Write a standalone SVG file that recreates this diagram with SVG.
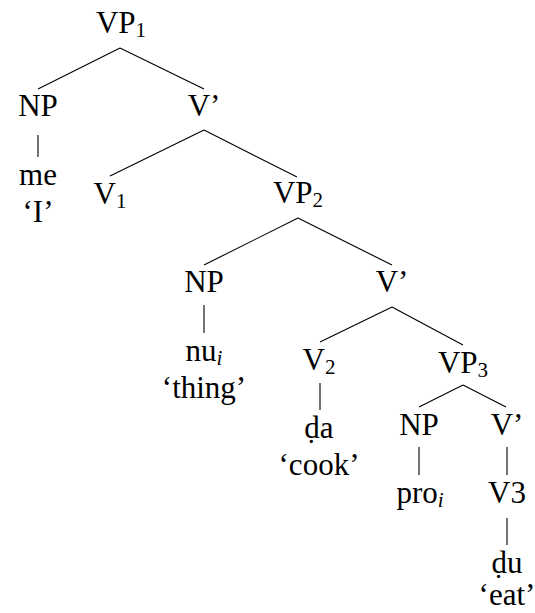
<svg xmlns="http://www.w3.org/2000/svg" width="535" height="613" viewBox="0 0 535 613">
<style>
text{font-family:"Liberation Serif","Tinos","Times New Roman","Times","Nimbus Roman","Noto Serif","DejaVu Serif",serif;font-size:31px;fill:#000;text-anchor:middle}
.s{font-size:21px}
.i{font-style:italic}
line{stroke:#000;stroke-width:1.1}
</style>
<rect width="535" height="613" fill="#fff"/>
<g id="connectors">
<line x1="120" y1="48" x2="38" y2="89"/>
<line x1="120" y1="48" x2="204" y2="89"/>
<line x1="38" y1="135" x2="38" y2="157"/>
<line x1="204" y1="130" x2="110" y2="176"/>
<line x1="204" y1="130" x2="297" y2="177"/>
<line x1="298" y1="218" x2="204" y2="265"/>
<line x1="298" y1="218" x2="392" y2="265"/>
<line x1="204" y1="305" x2="204" y2="333"/>
<line x1="392" y1="307" x2="320" y2="342"/>
<line x1="392" y1="307" x2="463" y2="345"/>
<line x1="320" y1="383" x2="320" y2="410"/>
<line x1="463" y1="385" x2="419" y2="407"/>
<line x1="463" y1="385" x2="506" y2="407"/>
<line x1="419" y1="447" x2="419" y2="475"/>
<line x1="507" y1="447" x2="507" y2="475"/>
<line x1="507" y1="518" x2="507" y2="545"/>
</g>
<g id="vp1"><text x="121" y="33">VP<tspan class="s" dy="4">1</tspan></text></g>
<g id="np1"><text x="38" y="116">NP</text></g>
<g id="me"><text x="38" y="185">me</text><text x="38" y="222">‘I’</text></g>
<g id="vbar1"><text x="204" y="116">V’</text></g>
<g id="v1"><text x="110" y="204">V<tspan class="s" dy="4">1</tspan></text></g>
<g id="vp2"><text x="298" y="203">VP<tspan class="s" dy="4">2</tspan></text></g>
<g id="np2"><text x="204" y="292">NP</text></g>
<g id="nu"><text x="204" y="361">nu<tspan class="s i" dy="4">i</tspan></text><text x="204" y="398">‘thing’</text></g>
<g id="vbar2"><text x="392" y="292">V’</text></g>
<g id="v2"><text x="319" y="370">V<tspan class="s" dy="4">2</tspan></text></g>
<g id="da"><text x="319" y="438">ḍa</text><text x="319" y="475">‘cook’</text></g>
<g id="vp3"><text x="463" y="373">VP<tspan class="s" dy="4">3</tspan></text></g>
<g id="np3"><text x="419" y="435">NP</text></g>
<g id="pro"><text x="420" y="503">pro<tspan class="s i" dy="4">i</tspan></text></g>
<g id="vbar3"><text x="507" y="435">V’</text></g>
<g id="v3"><text x="507" y="503">V3</text></g>
<g id="du"><text x="507" y="573">ḍu</text><text x="507" y="605">‘eat’</text></g>
</svg>
